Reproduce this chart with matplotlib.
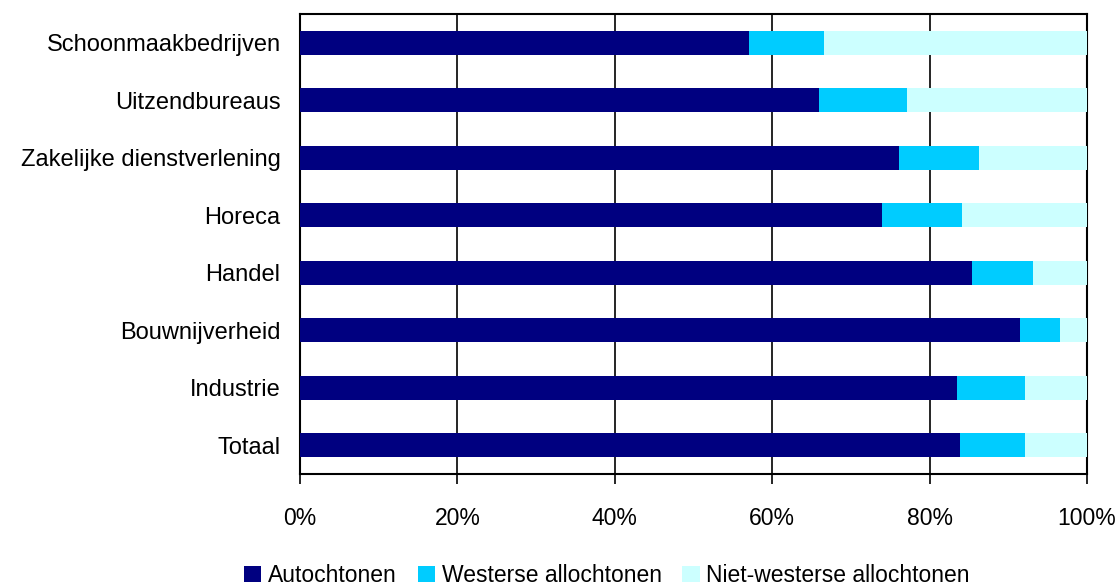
import numpy as np
import matplotlib
matplotlib.use("Agg")
import matplotlib.pyplot as plt
from matplotlib.ticker import PercentFormatter

# sectors, top to bottom as in the chart
sectors = ['Schoonmaakbedrijven', 'Uitzendbureaus', 'Zakelijke dienstverlening',
           'Horeca', 'Handel', 'Bouwnijverheid', 'Industrie', 'Totaal']

# shares in percent
autochtonen = [57.0, 65.9, 76.1, 74.0, 85.4, 91.5, 83.5, 83.9]
westers = [9.6, 11.2, 10.2, 10.1, 7.7, 5.1, 8.6, 8.2]
niet_westers = [100 - a - w for a, w in zip(autochtonen, westers)]

series = ['Autochtonen', 'Westerse allochtonen', 'Niet-westerse allochtonen']
colors = ['#000080', '#00CCFF', '#CCFFFF']

font = ['Liberation Sans', 'DejaVu Sans']
plt.rcParams['font.family'] = font

fig = plt.figure(figsize=(11.2, 5.86), dpi=100)
ax = fig.add_axes([0.2679, 0.1911, 0.7027, 0.785])

y = np.arange(len(sectors))
left = np.zeros(len(sectors))
for name, vals, c in zip(series, [autochtonen, westers, niet_westers], colors):
    ax.barh(y, vals, left=left, height=0.41, color=c, label=name, zorder=3)
    left += np.array(vals)

ax.set_ylim(len(sectors) - 0.5, -0.5)
ax.set_xlim(0, 100)
ax.set_yticks(y)
ax.set_yticklabels(sectors, fontsize=17)
ax.tick_params(axis='y', length=0, pad=14)

ax.set_xticks(np.arange(0, 101, 20))
ax.xaxis.set_major_formatter(PercentFormatter(decimals=0))
ax.tick_params(axis='x', direction='out', length=7, width=1.2, pad=17, labelsize=16.5)

ax.grid(axis='x', color='black', linewidth=1.2, zorder=0)
for s in ax.spines.values():
    s.set_linewidth(1.5)
    s.set_color('black')

fig.legend(loc='center', bbox_to_anchor=(0.542, 0.018), ncol=3, frameon=False,
           handlelength=0.75, handleheight=0.75, handletextpad=0.3, columnspacing=0.9,
           fontsize=16.5)

fig.savefig('out.png', dpi=100)
